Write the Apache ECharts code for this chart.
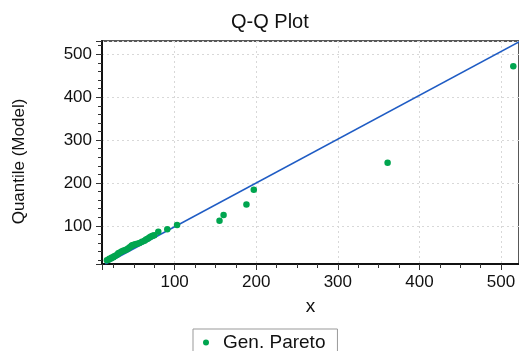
<!DOCTYPE html>
<html>
<head>
<meta charset="utf-8">
<script src="https://cdn.jsdelivr.net/npm/echarts@6/dist/echarts.min.js"></script>
<style>
html,body{margin:0;padding:0;background:#fff;}
#chart{width:519px;height:351px;}
</style>
</head>
<body>
<div id="chart"></div>
<script>
// Observed sample (x) vs model quantile (y)
const sampleX = [17, 19, 20, 22, 23, 25, 26, 28, 30, 31, 33, 35, 37, 39, 41, 43, 45, 47, 48, 50, 52, 54, 57, 60, 63, 65, 67, 69, 71, 73, 75, 80, 91, 103, 155, 160, 188, 197, 361, 515];
const modelQ = [20, 21, 23, 24, 26, 27, 29, 31, 33, 36, 38, 40, 42, 43, 45, 47, 50, 53, 55, 56, 57, 58, 60, 63, 65, 68, 70, 73, 75, 77, 78, 86, 92, 102, 112, 125, 150, 184, 247, 472];
// Reference line end points
const refLineX = [15, 530];
const refLineY = [11, 537];
const seriesName = 'Gen. Pareto';
const xTitle = 'x';
const yTitle = 'Quantile (Model)';
const chartTitle = 'Q-Q Plot';

const FONT = 'Liberation Sans, Arial, sans-serif';
const chart = echarts.init(document.getElementById('chart'), null, {renderer: 'canvas'});

const pts = sampleX.map((x, i) => [x, modelQ[i]]);
const linePts = refLineX.map((x, i) => [x, refLineY[i]]);

chart.setOption({
  animation: false,
  backgroundColor: '#ffffff',
  title: {
    text: chartTitle,
    left: 226,
    top: 7,
    textStyle: {fontFamily: FONT, fontSize: 20, fontWeight: 'normal', color: '#111'}
  },
  grid: {
    left: 102, top: 41, right: -3, bottom: 87,
    show: true, borderColor: '#222', borderWidth: 1.5
  },
  legend: {
    data: [seriesName],
    left: 193, top: 329,
    orient: 'horizontal',
    borderColor: '#999', borderWidth: 1,
    padding: [4, 12, 8, 10],
    icon: 'circle',
    itemWidth: 6, itemHeight: 6,
    textStyle: {fontFamily: FONT, fontSize: 19, color: '#111', padding: [0, 0, 0, 9]}
  },
  xAxis: {
    type: 'value',
    min: 11, max: 522,
    name: xTitle,
    nameLocation: 'middle',
    nameGap: 33,
    nameTextStyle: {fontFamily: FONT, fontSize: 19, color: '#111'},
    axisLine: {show: true, onZero: false, lineStyle: {color: '#111', width: 2}},
    axisTick: {show: true, length: 6, lineStyle: {color: '#333', width: 1}},
    minorTick: {show: true, splitNumber: 4, length: 4, lineStyle: {color: '#333', width: 1}},
    axisLabel: {fontFamily: FONT, fontSize: 17, color: '#111', margin: 10, showMinLabel: false, showMaxLabel: false},
    splitLine: {show: true, lineStyle: {color: '#d8d8d8', type: [2, 3], width: 1}}
  },
  yAxis: {
    type: 'value',
    min: 11, max: 531,
    name: yTitle,
    nameLocation: 'middle',
    nameGap: 74,
    nameRotate: 90,
    nameTextStyle: {fontFamily: FONT, fontSize: 17, color: '#111', padding: [0, 18, 0, 0]},
    axisLine: {show: true, onZero: false, lineStyle: {color: '#111', width: 2}},
    axisTick: {show: true, length: 6, lineStyle: {color: '#333', width: 1}},
    minorTick: {show: true, splitNumber: 5, length: 4, lineStyle: {color: '#333', width: 1}},
    axisLabel: {fontFamily: FONT, fontSize: 17, color: '#111', margin: 10, showMinLabel: false, showMaxLabel: false},
    splitLine: {show: true, lineStyle: {color: '#d8d8d8', type: [2, 3], width: 1}}
  },
  series: [
    {
      type: 'line',
      data: linePts,
      symbol: 'none',
      silent: true,
      clip: true,
      lineStyle: {color: '#1f5cc4', width: 1.5},
      z: 2
    },
    {
      name: seriesName,
      type: 'scatter',
      data: pts,
      symbol: 'circle',
      symbolSize: 6.5,
      itemStyle: {color: '#00a54f', opacity: 1},
      clip: false,
      z: 3
    }
  ]
});
</script>
</body>
</html>
